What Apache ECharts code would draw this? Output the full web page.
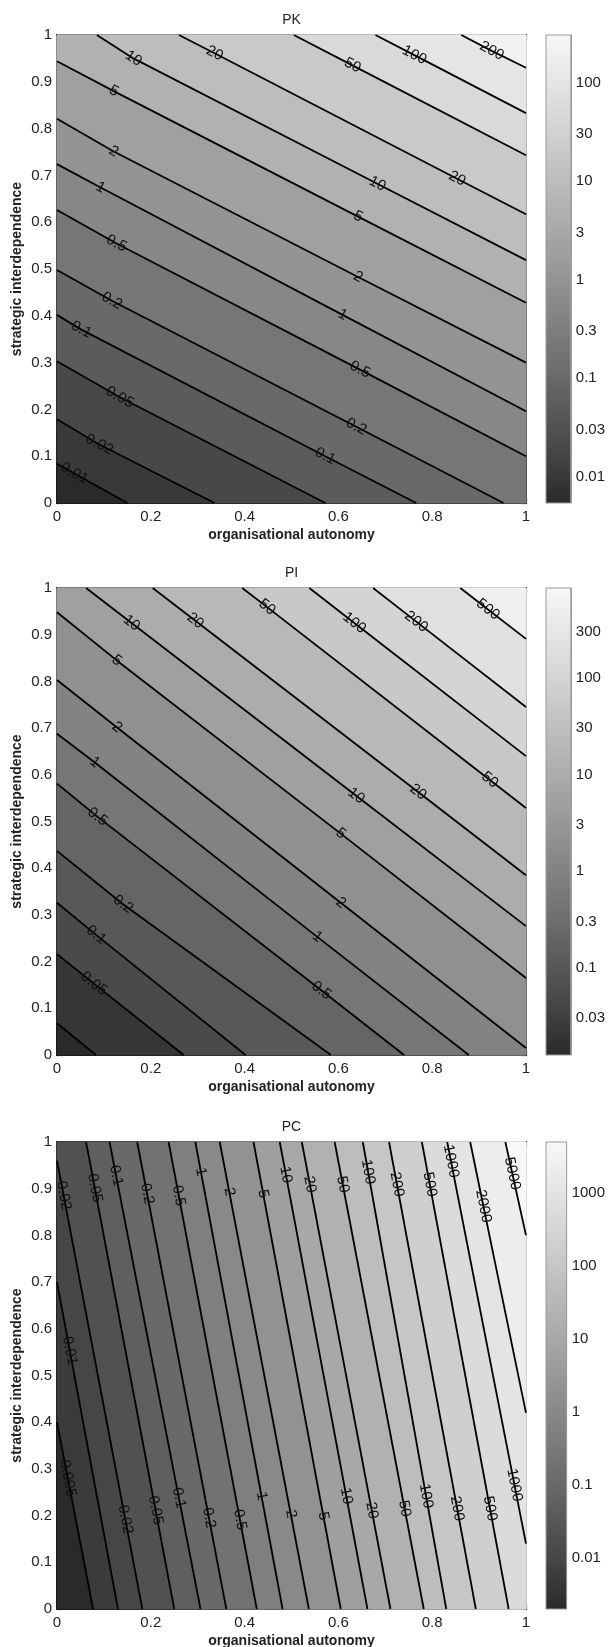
<!DOCTYPE html>
<html><head><meta charset="utf-8">
<script src="https://cdn.jsdelivr.net/npm/echarts@6/dist/echarts.min.js"></script>
<style>html,body{margin:0;padding:0;background:#fff}#c{width:608px;height:1647px}</style>
</head><body><div id="c"></div>
<script>
// ---------- data ----------
const xTickValues = [0, 0.2, 0.4, 0.6, 0.8, 1];
const yTickValues = [0, 0.1, 0.2, 0.3, 0.4, 0.5, 0.6, 0.7, 0.8, 0.9, 1];

// PK
const pkLevels = [0.01, 0.02, 0.05, 0.1, 0.2, 0.5, 1, 2, 5, 10, 20, 50, 100, 200];
const pkLines = [
  [[0, 0.084], [0.150, 0]],
  [[0, 0.179], [0.088, 0.126], [0.336, 0]],
  [[0, 0.303], [0.134, 0.226], [0.572, 0]],
  [[0, 0.402], [0.051, 0.371], [0.572, 0.10], [0.766, 0]],
  [[0, 0.498], [0.117, 0.432], [0.638, 0.163], [0.952, 0]],
  [[0, 0.626], [0.126, 0.555], [0.646, 0.285], [1, 0.10]],
  [[0, 0.724], [0.093, 0.674], [0.609, 0.402], [1, 0.196]],
  [[0, 0.821], [0.121, 0.751], [0.642, 0.483], [1, 0.30]],
  [[0, 0.944], [0.121, 0.880], [0.642, 0.612], [1, 0.428]],
  [[0.085, 1], [0.163, 0.950], [0.683, 0.682], [1, 0.519]],
  [[0.26, 1], [0.336, 0.961], [0.853, 0.693], [1, 0.617]],
  [[0.505, 1], [0.63, 0.935], [1, 0.743]],
  [[0.679, 1], [0.762, 0.957], [1, 0.833]],
  [[0.862, 1], [0.927, 0.966], [1, 0.93]]
];
const pkLabels = [
  [0.035, 0.06, 0.01], [0.088, 0.12, 0.02], [0.134, 0.226, 0.05], [0.051, 0.369, 0.1],
  [0.117, 0.432, 0.2], [0.126, 0.553, 0.5], [0.093, 0.674, 1], [0.121, 0.751, 2],
  [0.121, 0.880, 5], [0.163, 0.950, 10], [0.336, 0.961, 20], [0.572, 0.10, 0.1],
  [0.638, 0.163, 0.2], [0.646, 0.285, 0.5], [0.609, 0.402, 1], [0.642, 0.483, 2],
  [0.642, 0.612, 5], [0.683, 0.682, 10], [0.853, 0.693, 20], [0.63, 0.935, 50],
  [0.762, 0.957, 100], [0.927, 0.966, 200]
];
const pkRange = [0.0054, 303];
const pkBarTicks = [0.01, 0.03, 0.1, 0.3, 1, 3, 10, 30, 100];

// PI
const piLevels = [0.02, 0.05, 0.1, 0.2, 0.5, 1, 2, 5, 10, 20, 50, 100, 200, 500];
const piLines = [
  [[0, 0.068], [0.083, 0]],
  [[0, 0.216], [0.076, 0.155], [0.270, 0]],
  [[0, 0.326], [0.080, 0.260], [0.402, 0]],
  [[0, 0.437], [0.138, 0.325], [0.584, 0]],
  [[0, 0.581], [0.084, 0.512], [0.564, 0.138], [0.74, 0]],
  [[0, 0.688], [0.080, 0.627], [0.555, 0.253], [0.878, 0]],
  [[0, 0.803], [0.126, 0.703], [0.605, 0.326], [1, 0.015]],
  [[0, 0.948], [0.126, 0.846], [0.605, 0.474], [1, 0.165]],
  [[0.062, 1], [0.159, 0.925], [0.638, 0.555], [1, 0.276]],
  [[0.204, 1], [0.295, 0.930], [0.770, 0.563], [1, 0.385]],
  [[0.395, 1], [0.448, 0.959], [0.923, 0.589], [1, 0.529]],
  [[0.538, 1], [0.634, 0.925], [1, 0.640]],
  [[0.674, 1], [0.766, 0.928], [1, 0.745]],
  [[0.860, 1], [0.919, 0.954], [1, 0.891]]
];
const piLabels = [
  [0.159, 0.925, 10], [0.295, 0.930, 20], [0.448, 0.959, 50], [0.634, 0.925, 100],
  [0.766, 0.928, 200], [0.919, 0.954, 500], [0.126, 0.843, 5], [0.126, 0.699, 2],
  [0.080, 0.626, 1], [0.084, 0.507, 0.5], [0.138, 0.319, 0.2], [0.080, 0.253, 0.1],
  [0.076, 0.149, 0.05], [0.638, 0.555, 10], [0.770, 0.563, 20], [0.923, 0.589, 50],
  [0.605, 0.474, 5], [0.605, 0.326, 2], [0.555, 0.253, 1], [0.564, 0.138, 0.5]
];
const piRange = [0.0124, 853];
const piBarTicks = [0.03, 0.1, 0.3, 1, 3, 10, 30, 100, 300];

// PC
const pcLevels = [0.005, 0.01, 0.02, 0.05, 0.1, 0.2, 0.5, 1, 2, 5, 10, 20, 50, 100, 200, 500, 1000, 2000, 5000];
const pcLines = [
  [[0, 0.40], [0.077, 0]],
  [[0, 0.70], [0.130, 0]],
  [[0, 0.96], [0.182, 0]],
  [[0.062, 1], [0.250, 0]],
  [[0.112, 1], [0.306, 0]],
  [[0.171, 1], [0.361, 0]],
  [[0.238, 1], [0.426, 0]],
  [[0.295, 1], [0.481, 0]],
  [[0.347, 1], [0.537, 0]],
  [[0.419, 1], [0.605, 0]],
  [[0.475, 1], [0.662, 0]],
  [[0.522, 1], [0.711, 0]],
  [[0.592, 1], [0.782, 0]],
  [[0.652, 1], [0.830, 0]],
  [[0.708, 1], [0.893, 0]],
  [[0.778, 1], [0.963, 0]],
  [[0.832, 1], [1, 0.14]],
  [[0.881, 1], [1, 0.42]],
  [[0.956, 1], [1, 0.80]]
];
const pcLabels = [
  [0.014, 0.885, 0.02], [0.080, 0.901, 0.05], [0.126, 0.928, 0.1], [0.192, 0.889, 0.2],
  [0.260, 0.885, 0.5], [0.307, 0.936, 1], [0.367, 0.893, 2], [0.440, 0.889, 5],
  [0.488, 0.930, 10], [0.539, 0.909, 20], [0.609, 0.909, 50], [0.663, 0.936, 100],
  [0.725, 0.909, 200], [0.795, 0.909, 500], [0.840, 0.959, 1000], [0.907, 0.862, 2000],
  [0.969, 0.932, 5000],
  [0.010, 0.277, 0.005], [0.022, 0.552, 0.01], [0.142, 0.191, 0.02], [0.208, 0.211, 0.05],
  [0.260, 0.238, 0.1], [0.324, 0.195, 0.2], [0.390, 0.191, 0.5], [0.436, 0.242, 1],
  [0.498, 0.203, 2], [0.568, 0.199, 5], [0.617, 0.242, 10], [0.671, 0.211, 20],
  [0.741, 0.215, 50], [0.787, 0.242, 100], [0.853, 0.215, 200], [0.923, 0.215, 500],
  [0.973, 0.265, 1000]
];
const pcRange = [0.00198, 4955];
const pcBarTicks = [0.01, 0.1, 1, 10, 100, 1000];

// ---------- layout ----------
const FONT = '"Liberation Sans", Arial, sans-serif';
const TICK_FS = 15;
const PLOT_LEFT = 57, PLOT_W = 469, BAR_LEFT = 546, BAR_W = 26;
const charts = [
  { title: 'PK', levels: pkLevels, lines: pkLines, labels: pkLabels, range: pkRange, ticks: pkBarTicks, top: 35, height: 468 },
  { title: 'PI', levels: piLevels, lines: piLines, labels: piLabels, range: piRange, ticks: piBarTicks, top: 588, height: 467 },
  { title: 'PC', levels: pcLevels, lines: pcLines, labels: pcLabels, range: pcRange, ticks: pcBarTicks, top: 1142, height: 467 }
];

const G0 = 42, G1 = 248, GAMMA = 0.9;
function grayT(t) {
  t = Math.max(0, Math.min(1, t));
  const g = Math.round(G0 + Math.pow(t, GAMMA) * (G1 - G0));
  return 'rgb(' + g + ',' + g + ',' + g + ')';
}
function grayAt(v, range) {
  const l0 = Math.log10(range[0]), l1 = Math.log10(range[1]);
  return grayT((Math.log10(v) - l0) / (l1 - l0));
}
function perim(p) {
  const e = 1e-6, x = p[0], y = p[1];
  if (y <= e) return x;
  if (x >= 1 - e) return 1 + y;
  if (y >= 1 - e) return 2 + (1 - x);
  return 3 + (1 - y);
}
function closePoly(line) {
  let pts = line.slice();
  let tA = perim(pts[0]), tB = perim(pts[pts.length - 1]);
  if (tA < tB) { pts.reverse(); const t = tA; tA = tB; tB = t; }
  const corners = [[1, 0], [1, 1], [0, 1]];
  for (let c = 1; c <= 3; c++) if (c > tB && c < tA) pts.push(corners[c - 1]);
  return pts;
}
function snap(pix, p) {
  let best = null, bd = Infinity;
  for (let i = 0; i < pix.length - 1; i++) {
    const a = pix[i], b = pix[i + 1];
    const dx = b[0] - a[0], dy = b[1] - a[1];
    const L2 = dx * dx + dy * dy || 1;
    let t = ((p[0] - a[0]) * dx + (p[1] - a[1]) * dy) / L2;
    t = Math.max(0, Math.min(1, t));
    const q = [a[0] + t * dx, a[1] + t * dy];
    const d = (q[0] - p[0]) ** 2 + (q[1] - p[1]) ** 2;
    if (d < bd) { bd = d; best = { q: q, dx: dx, dy: dy }; }
  }
  return best;
}

const grids = [], xAxes = [], yAxes = [], series = [], graphics = [];
const axisCol = '#151515';
charts.forEach((c, i) => {
  const gp = 2 * i, gb = 2 * i + 1;
  grids.push({ left: PLOT_LEFT, top: c.top, width: PLOT_W, height: c.height });
  grids.push({ left: BAR_LEFT, top: c.top, width: BAR_W, height: c.height });
  const axBase = {
    type: 'value', min: 0, max: 1,
    axisLine: { show: true, onZero: false, lineStyle: { color: axisCol, width: 2 } },
    axisTick: { show: true, inside: true, length: 5, lineStyle: { color: axisCol, width: 1.2 } },
    splitLine: { show: false }
  };
  xAxes.push(Object.assign({}, axBase, {
    gridIndex: gp, position: 'bottom', interval: 0.2,
    axisLabel: { show: true, margin: 6, fontSize: TICK_FS, fontFamily: FONT, color: '#222',
      customValues: xTickValues }
  }));
  xAxes.push(Object.assign({}, axBase, {
    gridIndex: gp, position: 'top', interval: 0.2, axisLabel: { show: false }
  }));
  xAxes.push({ gridIndex: gb, type: 'value', min: 0, max: 1, show: false });
  yAxes.push(Object.assign({}, axBase, {
    gridIndex: gp, position: 'left', interval: 0.1,
    axisLabel: { show: true, margin: 5, fontSize: TICK_FS, fontFamily: FONT, color: '#222',
      customValues: yTickValues }
  }));
  yAxes.push(Object.assign({}, axBase, {
    gridIndex: gp, position: 'right', interval: 0.1, axisLabel: { show: false }
  }));
  const l0 = Math.log10(c.range[0]), l1 = Math.log10(c.range[1]);
  const logTicks = c.ticks.map(v => Math.log10(v));
  const barAx = {
    gridIndex: gb, type: 'value', min: l0, max: l1,
    axisLine: { show: true, onZero: false, lineStyle: { color: '#9a9a9a', width: 1 } },
    axisTick: { show: true, inside: true, length: 5, lineStyle: { color: '#8a8a8a' }, customValues: logTicks },
    splitLine: { show: false }
  };
  yAxes.push(Object.assign({}, barAx, { position: 'left', axisLabel: { show: false } }));
  yAxes.push(Object.assign({}, barAx, {
    position: 'right',
    axisLabel: {
      show: true, margin: 5, fontSize: TICK_FS, fontFamily: FONT, color: '#222',
      customValues: logTicks,
      formatter: function (v) {
        let bi = 0, bd = Infinity;
        logTicks.forEach((t, k) => { const d = Math.abs(t - v); if (d < bd) { bd = d; bi = k; } });
        return String(c.ticks[bi]);
      }
    }
  }));
  const xi = 3 * i, yi = 4 * i;

  // filled bands
  const fillData = [[0.5, 0.5, -1]].concat(c.levels.map((l, k) => [0.5, 0.5, k]));
  series.push({
    type: 'custom', xAxisIndex: xi, yAxisIndex: yi, silent: true, animation: false, z: 1,
    data: fillData,
    renderItem: function (params, api) {
      const k = api.value(2);
      const pts = k < 0 ? [[0, 0], [1, 0], [1, 1], [0, 1]] : closePoly(c.lines[k]);
      const col = k < 0 ? grayAt(c.range[0], c.range) : grayAt(c.levels[k], c.range);
      return { type: 'polygon', shape: { points: pts.map(p => api.coord(p)) },
        style: { fill: col, stroke: col, lineWidth: 0.6 } };
    }
  });
  // contour lines
  c.lines.forEach((ln) => {
    series.push({
      type: 'line', xAxisIndex: xi, yAxisIndex: yi, data: ln, showSymbol: false, symbol: 'none',
      silent: true, animation: false, z: 3, lineStyle: { color: '#000', width: 1.8 }
    });
  });
  // contour labels
  series.push({
    type: 'custom', xAxisIndex: xi, yAxisIndex: yi, silent: true, animation: false, z: 4,
    data: c.labels.map(l => [l[0], l[1], c.levels.indexOf(l[2])]),
    renderItem: function (params, api) {
      const k = api.value(2);
      const pix = c.lines[k].map(p => api.coord(p));
      const s = snap(pix, api.coord([api.value(0), api.value(1)]));
      let dx = s.dx, dy = s.dy;
      if (dx < 0) { dx = -dx; dy = -dy; }
      return { type: 'text', x: s.q[0], y: s.q[1], rotation: -Math.atan2(dy, dx),
        style: { text: String(c.levels[k]), fill: '#111', fontSize: 15, fontFamily: FONT,
          align: 'center', verticalAlign: 'middle' } };
    }
  });
  // colorbar
  series.push({
    type: 'custom', xAxisIndex: xi + 2, yAxisIndex: yi + 2, silent: true, animation: false, z: 1,
    data: [[0.5, (l0 + l1) / 2]],
    renderItem: function (params, api) {
      const a = api.coord([0, l1]), b = api.coord([1, l0]);
      const stops = [];
      for (let s = 0; s <= 10; s++) stops.push({ offset: s / 10, color: grayT(s / 10) });
      return { type: 'rect', shape: { x: a[0], y: a[1], width: b[0] - a[0], height: b[1] - a[1] },
        style: { fill: new echarts.graphic.LinearGradient(0, 1, 0, 0, stops), stroke: '#9a9a9a', lineWidth: 1 } };
    }
  });
  const cx = PLOT_LEFT + PLOT_W / 2;
  graphics.push({ type: 'text', x: cx, y: c.top - 15, style: { text: c.title, fontSize: 14, fontFamily: FONT, fill: '#222', align: 'center', verticalAlign: 'middle' } });
  graphics.push({ type: 'text', x: cx, y: c.top + c.height + 32, style: { text: 'organisational autonomy', fontSize: 14, fontWeight: 'bold', fontFamily: FONT, fill: '#222', align: 'center', verticalAlign: 'middle' } });
  graphics.push({ type: 'text', x: 17, y: c.top + c.height / 2, rotation: Math.PI / 2, style: { text: 'strategic interdependence', fontSize: 14, fontWeight: 'bold', fontFamily: FONT, fill: '#222', align: 'center', verticalAlign: 'middle' } });
});

const chart = echarts.init(document.getElementById('c'), null, { renderer: 'canvas' });
chart.setOption({
  backgroundColor: '#fff',
  animation: false,
  grid: grids, xAxis: xAxes, yAxis: yAxes, series: series, graphic: graphics
});
</script></body></html>
